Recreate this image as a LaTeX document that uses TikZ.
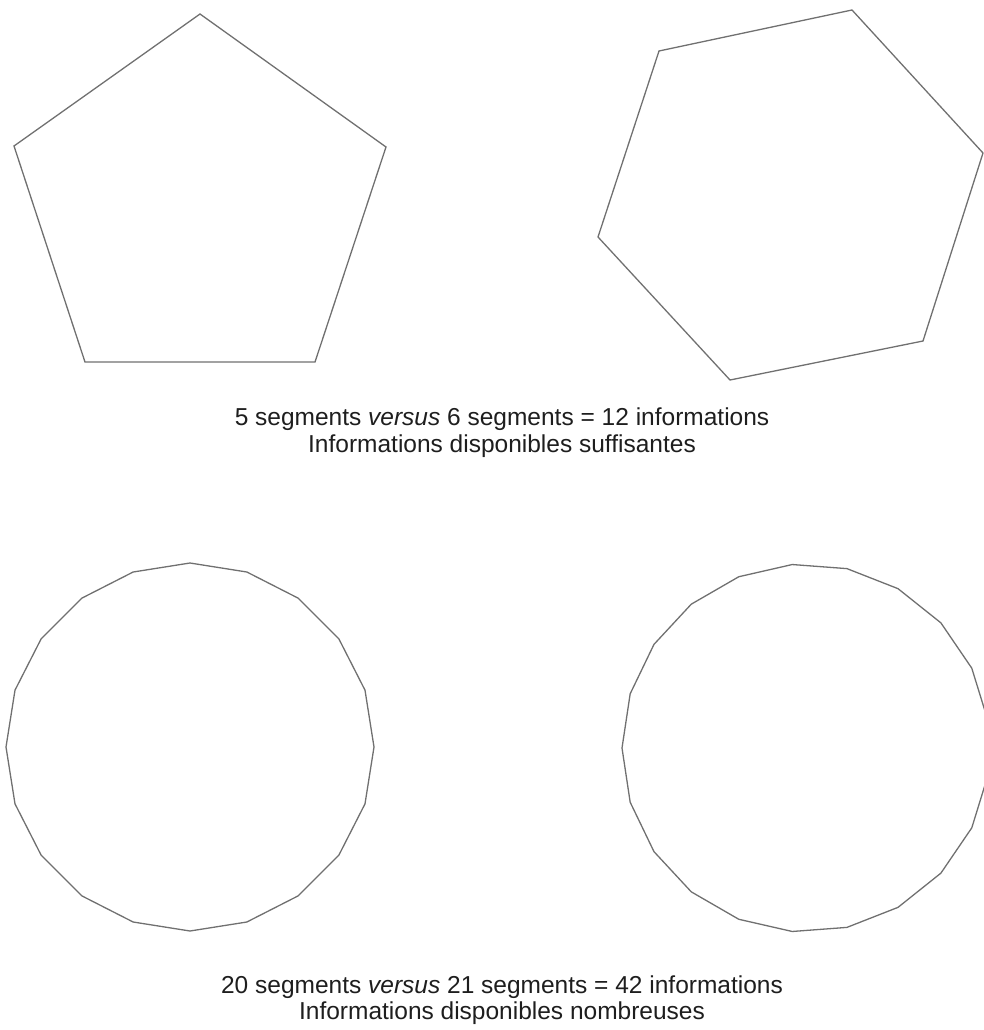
\documentclass[tikz,border=0pt]{standalone}
\usepackage{fontspec}
\setmainfont{Liberation Sans}
\definecolor{edgegray}{RGB}{112,112,112}
\definecolor{txt}{RGB}{30,30,30}
\begin{document}
\begin{tikzpicture}[x=1pt,y=-1pt,
  poly/.style={draw=edgegray,line width=1.3pt,line join=miter},
  caption/.style={anchor=base,inner sep=0pt,text=txt,font=\fontsize{24.5}{27}\selectfont}]
\useasboundingbox (0,0) rectangle (984,1030);
% pentagon
\draw[poly] (200,14) -- (386,147) -- (315,362) -- (85,362) -- (14,146) -- cycle;
% hexagon
\draw[poly] (852,10) -- (983,153) -- (923,341) -- (730,380) -- (598,237) -- (659,51) -- cycle;
% 20-gon
\begin{scope}[shift={(190,747)}]
\draw[poly] (0:184) \foreach \a in {18,36,...,342} { -- (\a:184) } -- cycle;
\end{scope}
% 21-gon
\begin{scope}[shift={(806,748)}]
\draw[poly] (180:184) \foreach \k in {1,...,20} { -- ({180+\k*360/21}:184) } -- cycle;
\end{scope}
% captions
\node[caption] (t1) at (502,425) {5 segments \textit{versus} 6 segments = 12 informations};
\node[caption] (t2) at (502,452) {Informations disponibles suffisantes};
\node[caption] (b1) at (502,993) {20 segments \textit{versus} 21 segments = 42 informations};
\node[caption] (b2) at (502,1019) {Informations disponibles nombreuses};
\end{tikzpicture}
\end{document}
